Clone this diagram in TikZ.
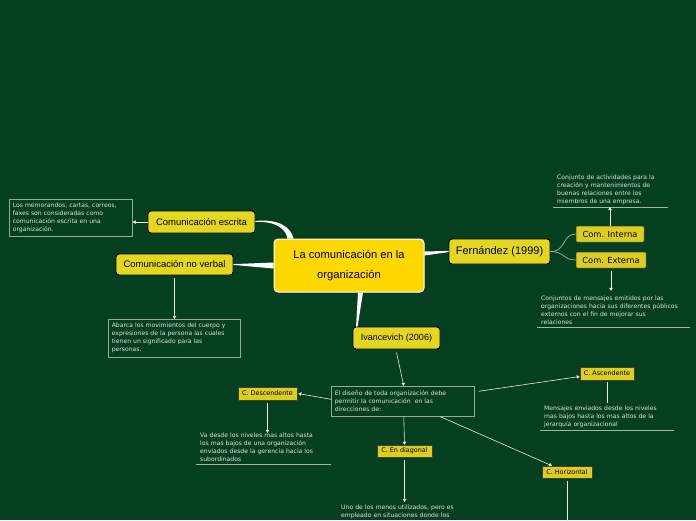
\documentclass[tikz,border=0pt]{standalone}
\usepackage{fontspec}
\setmainfont{DejaVu Sans}
\newfontfamily\hand{Liberation Sans}
\usetikzlibrary{arrows.meta,calc}
\definecolor{bg}{HTML}{043F20}
\definecolor{gold}{HTML}{FFD800}
\definecolor{ytop}{HTML}{E5D71F}
\definecolor{ysub}{HTML}{DCCD1E}
\definecolor{notebd}{HTML}{8FAE98}
\definecolor{notetx}{HTML}{DCE6DE}
\definecolor{linec}{HTML}{E6ECE7}
\definecolor{ulc}{HTML}{9DB8A5}
\tikzset{
  central/.style={fill=gold, draw=white, line width=1pt, rounded corners=4pt,
    minimum width=150pt, minimum height=53pt, inner sep=0pt, align=center,
    font=\hand\fontsize{11.2}{20}\selectfont},
  topic/.style={fill=ytop, draw=black, line width=0.9pt, rounded corners=3pt,
    inner sep=0pt, font=\hand\fontsize{9.5}{11}\selectfont},
  subt/.style={fill=ysub, draw=black!75, line width=0.5pt, rounded corners=1pt,
    inner sep=0pt, font=\fontsize{8.3}{9}\selectfont},
  smallt/.style={fill=ysub, draw=black!75, line width=0.5pt,
    inner sep=0pt, font=\fontsize{6.4}{7}\selectfont},
  note/.style={draw=notebd, line width=0.6pt, text=notetx, align=left,
    inner sep=0pt, font=\fontsize{6.1}{8}\selectfont},
  pnote/.style={text=notetx, align=left, inner xsep=4pt, inner ysep=2pt,
    font=\fontsize{6.1}{8}\selectfont},
  uline/.style={draw=ulc, line width=0.7pt},
  conn/.style={draw=linec, line width=0.6pt, -{Triangle[width=3.5pt,length=3pt]}},
  plainc/.style={draw=linec, line width=0.6pt},
  fork/.style={draw=ulc, line width=0.7pt},
}
\begin{document}
\begin{tikzpicture}[x=1pt,y=-1pt]
\fill[bg] (0,0) rectangle (696,520);
\useasboundingbox (0,0) rectangle (696,520);

% main nodes
\node[central] (center) at (349,265.5) {La comunicación en la\\organización};
\node[topic, minimum width=107pt, minimum height=22pt] (escrita) at (201.5,222) {Comunicación escrita};
\node[topic, minimum width=117pt, minimum height=21pt] (nonverbal) at (174.5,264.5) {Comunicación no verbal};
\node[topic, minimum width=101pt, minimum height=25pt, font=\hand\fontsize{11}{12}\selectfont] (fern) at (499.5,251.5) {Fernández (1999)};
\node[topic, minimum width=87pt, minimum height=22pt, font=\hand\fontsize{9}{10}\selectfont] (ivan) at (396.5,338) {Ivancevich (2006)};

\node[subt, minimum width=68pt, minimum height=16pt] (interna) at (610,234) {Com. Interna};
\node[subt, minimum width=70pt, minimum height=16pt] (externa) at (611,260) {Com. Externa};

\node[smallt, minimum width=59pt, minimum height=13pt] (desc) at (267.5,393.5) {C. Descendente};
\node[smallt, minimum width=54pt, minimum height=13pt] (asc) at (607,373.5) {C. Ascendente};
\node[smallt, minimum width=55pt, minimum height=12pt] (diag) at (404.5,451) {C. En diagonal};
\node[smallt, minimum width=50pt, minimum height=12pt] (hor) at (567,472) {C. Horizontal};

% boxed notes
\node[note, minimum width=123pt, minimum height=37pt, text width=116pt, anchor=north west] (memo) at (9,199)
  {Los memorandos, cartas, correos,\\faxes son consideradas como\\comunicación escrita en una\\organización.};
\node[note, minimum width=132pt, minimum height=38pt, text width=125pt, anchor=north west] (abarca) at (108,319)
  {Abarca los movimientos del cuerpo y\\expresiones de la persona las cuales\\tienen un significado para las\\personas.};
\node[note, minimum width=143pt, minimum height=30pt, text width=136pt, anchor=north west] (diseno) at (331,386)
  {El diseño de toda organización debe\\permitir la comunicación\ \ en las\\direcciones de:};

% underlined notes
\node[pnote, minimum width=115pt, text width=107pt, anchor=south west] (intnote) at (553,207)
  {Conjunto de actividades para la\\creación y mantenimientos de\\buenas relaciones entre los\\miembros de una empresa.};
\draw[uline] (intnote.south west) -- (intnote.south east);
\node[pnote, minimum width=153pt, text width=145pt, anchor=south west] (extnote) at (537,327)
  {Conjuntos de mensajes emitidos por las\\organizaciones hacia sus diferentes públicos\\externos con el fin de mejorar sus\\relaciones};
\draw[uline] (extnote.south west) -- (extnote.south east);
\node[pnote, minimum width=135pt, text width=127pt, anchor=south west] (descnote) at (196,464)
  {Va desde los niveles mas altos hasta\\los mas bajos de una organización\\enviados desde la gerencia hacia los\\subordinados};
\draw[uline] (descnote.south west) -- (descnote.south east);
\node[pnote, minimum width=134pt, text width=126pt, anchor=south west] (ascnote) at (540,430)
  {Mensajes enviados desde los niveles\\mas bajos hasta los mas altos de la\\jerarquía organizacional};
\draw[uline] (ascnote.south west) -- (ascnote.south east);
\node[pnote, text width=130pt, anchor=north west] (diagnote) at (337,503)
  {Uno de los menos utilizados, pero es\\empleado en situaciones donde los};

% tapered main connectors
\fill[white] (escrita.east) .. controls (276,221) and (286,229) .. ([xshift=14pt]center.north west)
  -- ([xshift=20pt]center.north west) .. controls (291,227) and (278,218.5) .. ([yshift=1pt]escrita.east) -- cycle;
\fill[white] ([yshift=0.4pt]nonverbal.east) -- ([yshift=3pt]center.west) -- ([yshift=-3pt]center.west) -- ([yshift=-0.4pt]nonverbal.east) -- cycle;
\fill[white] ([yshift=14pt]center.east) -- ([yshift=0.6pt]fern.west) -- ([yshift=-0.6pt]fern.west) -- ([yshift=10pt]center.east) -- cycle;
\fill[white] ([xshift=9pt]center.south) -- ([xshift=3.5pt]ivan.north west) -- ([xshift=5pt]ivan.north west) -- ([xshift=14pt]center.south) -- cycle;

% fork
\draw[fork] (fern.east) .. controls (566,252) and (562,234) .. (interna.west);
\draw[fork] (fern.east) .. controls (566,252) and (562,260) .. (externa.west);

% connectors
\draw[conn] (escrita.west) -- (memo.east |- escrita.west);
\draw[conn] ([yshift=-3pt]nonverbal.south) -- (nonverbal.south |- abarca.north);
\draw[conn] (interna.north) -- (interna.north |- intnote.south);
\draw[conn] ([yshift=-3pt]externa.south) -- ($(externa.south |- extnote.north)+(0,-3)$);
\draw[conn] ([yshift=-3pt]ivan.south) -- ([xshift=1pt]diseno.north);
\draw[conn] ([yshift=2pt]diseno.west) -- ([xshift=1pt]desc.east);
\draw[conn] ([yshift=-3pt]desc.south) -- ($(desc.south |- descnote.north)+(0,2)$);
\draw[conn] ([xshift=4pt,yshift=10pt]diseno.east) -- ([yshift=-3pt]asc.west);
\draw[plainc] ([yshift=-2pt]asc.south) -- ($(asc.south |- ascnote.north)+(0,-1)$);
\draw[conn] ([xshift=1pt]diseno.south) -- (diag.north);
\draw[conn] ([yshift=-3pt]diag.south) -- ($(diag.south |- diagnote.north)+(0,-1)$);
\draw[conn] ($(diseno.south west)!0.76!(diseno.south east)$) -- ([xshift=-15pt]hor.north);
\coordinate (horend) at (567,525);
\draw[plainc] ([yshift=-3pt]hor.south) -- (horend);
\end{tikzpicture}
\end{document}
